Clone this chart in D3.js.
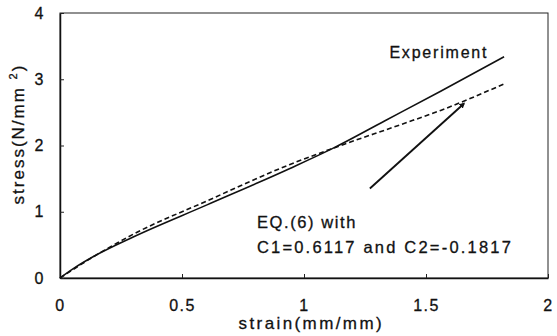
<!DOCTYPE html>
<html lang="en">
<head>
<meta charset="utf-8">
<title>stress-strain</title>
<script src="https://cdn.jsdelivr.net/npm/d3@7"></script>
<style>
  body { margin: 0; background: #fff; }
  svg { display: block; }
  .tick text { font-family: Arial, "Liberation Sans", sans-serif; font-size: 16px; fill: #111; letter-spacing: 1.5px; stroke: #111; stroke-width: 0.3px; }
  .lbl { font-family: Arial, "Liberation Sans", sans-serif; fill: #111; stroke: #111; stroke-width: 0.3px; }
</style>
</head>
<body>
<svg width="557" height="336"></svg>
<script>
// experiment curve (solid)
const strainExp = [0, 0.05, 0.15, 0.30, 0.60, 0.94, 1.12, 1.33, 1.56, 1.82];
const stressExp = [0, 0.13, 0.35, 0.62, 1.10, 1.65, 1.96, 2.37, 2.82, 3.34];
// EQ.(6) curve (dashed)
const strainEq = [0, 0.15, 0.30, 0.60, 0.94, 1.12, 1.40, 1.56, 1.82];
const stressEq = [0, 0.35, 0.66, 1.16, 1.71, 1.96, 2.32, 2.53, 2.93];
// arrow from label to dashed curve
const arrowStrain = [1.27, 1.655];
const arrowStress = [1.35, 2.63];
const xTicks = [0, 0.5, 1, 1.5, 2];
const yTicks = [0, 1, 2, 3, 4];

const svg = d3.select("svg");
const m = {left: 60, right: 9, top: 13, bottom: 58};
const W = 557 - m.left - m.right, H = 336 - m.top - m.bottom;
const g = svg.append("g").attr("transform", `translate(${m.left},${m.top})`);

const x = d3.scaleLinear().domain([0, 2]).range([0, W]);
const y = d3.scaleLinear().domain([0, 4]).range([H, 0]);

// frame
g.append("rect").attr("width", W).attr("height", H)
  .attr("fill", "none").attr("stroke", "#222").attr("stroke-width", 1);

const xAx = g.append("g").attr("transform", `translate(0,${H})`)
  .call(d3.axisBottom(x).tickValues(xTicks).tickFormat(d => d)
    .tickSizeInner(-4).tickSizeOuter(0).tickPadding(22));
const yAx = g.append("g")
  .call(d3.axisLeft(y).tickValues(yTicks).tickFormat(d => d)
    .tickSizeInner(-4).tickSizeOuter(0).tickPadding(15));
[xAx, yAx].forEach(a => {
  a.select(".domain").attr("stroke", "#111").attr("stroke-width", 1.5);
  a.selectAll(".tick line").attr("stroke", "#222");
});

const line = d3.line().x(d => x(d[0])).y(d => y(d[1])).curve(d3.curveMonotoneX);

g.append("path")
  .attr("d", line(strainExp.map((v, i) => [v, stressExp[i]])))
  .attr("fill", "none").attr("stroke", "#111").attr("stroke-width", 1.6);

g.append("path")
  .attr("d", line(strainEq.map((v, i) => [v, stressEq[i]])))
  .attr("fill", "none").attr("stroke", "#111").attr("stroke-width", 1.6)
  .attr("stroke-dasharray", "5,3");

// arrow
svg.append("defs").append("marker")
  .attr("id", "head").attr("viewBox", "0 0 10 10")
  .attr("refX", 7).attr("refY", 5)
  .attr("markerWidth", 3).attr("markerHeight", 3)
  .attr("orient", "auto")
  .append("path").attr("d", "M0,0 L10,5 L0,10 z").attr("fill", "#111");

g.append("path")
  .attr("d", d3.line().x(d => x(d[0])).y(d => y(d[1]))(arrowStrain.map((v, i) => [v, arrowStress[i]])))
  .attr("stroke", "#111").attr("stroke-width", 1.9)
  .attr("marker-end", "url(#head)");

// labels
g.append("text").attr("class", "lbl")
  .attr("x", x(1.35)).attr("y", y(3.32))
  .attr("font-size", 16).attr("letter-spacing", "1.8px")
  .text("Experiment");

g.append("text").attr("class", "lbl")
  .attr("x", x(0.807)).attr("y", y(0.76))
  .attr("font-size", 16.5).attr("letter-spacing", "1.6px")
  .text("EQ.(6) with");
g.append("text").attr("class", "lbl")
  .attr("x", x(0.807)).attr("y", y(0.38))
  .attr("font-size", 16.5).attr("letter-spacing", "2.2px")
  .text("C1=0.6117 and C2=-0.1817");

// axis titles
svg.append("text").attr("class", "lbl")
  .attr("x", m.left + x(1.03)).attr("y", 329)
  .attr("text-anchor", "middle")
  .attr("font-size", 17).attr("letter-spacing", "2.4px")
  .text("strain(mm/mm)");

const yt = svg.append("text").attr("class", "lbl")
  .attr("transform", "translate(24,134) rotate(-90)")
  .attr("text-anchor", "middle")
  .attr("font-size", 17).attr("letter-spacing", "2px");
yt.append("tspan").text("stress(N/mm ");
yt.append("tspan").attr("font-size", 11).attr("dy", -7).text("2");
yt.append("tspan").attr("dy", 7).text(")");
</script>
</body>
</html>
